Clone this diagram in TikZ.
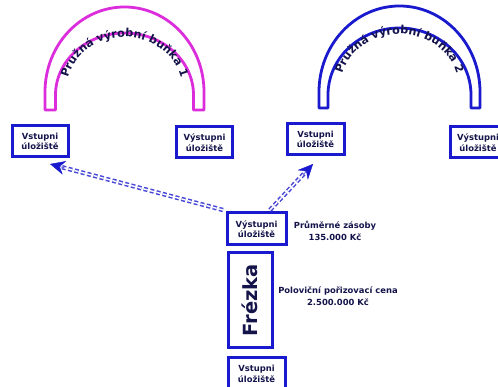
\documentclass[tikz,border=0pt]{standalone}
\usepackage{fontspec}
\setmainfont{DejaVu Sans}
\usetikzlibrary{decorations.text,arrows.meta,calc}
\definecolor{boxblue}{RGB}{25,25,205}
\definecolor{dashblue}{RGB}{70,70,215}
\definecolor{archpink}{RGB}{220,45,220}
\definecolor{navy}{RGB}{20,20,75}
\tikzset{
  store/.style={draw=boxblue, line width=3pt, fill=white, text=navy, align=center,
    font=\fontsize{8.4}{10.5}\selectfont\bfseries, inner sep=1pt,
    minimum width=56pt, minimum height=31pt},
  lbl/.style={text=navy, align=center, font=\fontsize{8.4}{12}\selectfont\bfseries},
  arch/.style={line width=2.8pt, line join=round},
  archtext/.style={decorate},
  flow/.style={draw=dashblue, line width=1.5pt, double=white, double distance=1.4pt,
    dash pattern=on 4pt off 2.5pt},
  flowtip/.style={draw=boxblue, fill=boxblue, -{Stealth[length=15pt,width=14pt,inset=5pt]}}
}
\begin{document}
\fontsize{11.2}{11}\selectfont\bfseries
\begin{tikzpicture}[x=1pt,y=1pt]
\path[use as bounding box, clip] (0,0) rectangle (498,387);
\fill[white] (0,0) rectangle (498,387);
% arch 1
\draw[arch, draw=archpink] (45,277) -- (45,295)
  arc[start angle=180,end angle=0,x radius=79.5pt,y radius=85pt] -- (204,277) -- (193.5,277) -- (193.5,292)
  arc[start angle=0,end angle=180,x radius=69pt,y radius=62pt] -- (55.5,277) -- cycle;
% arch 2
\draw[arch, draw=boxblue] (319,279) -- (319,295)
  arc[start angle=180,end angle=0,x radius=80.5pt,y radius=86pt] -- (480,279) -- (471,279) -- (471,292)
  arc[start angle=0,end angle=180,x radius=71.5pt,y radius=67pt] -- (328,279) -- cycle;
\path[archtext, decoration={text along path, text align=center, text color=navy,
  text={Pružná výrobní buňka 1}}]
  (66.5,297) arc[start angle=180,end angle=0,x radius=58pt,y radius=53pt];
\path[archtext, decoration={text along path, text align=center, text color=navy,
  text={Pružná výrobní buňka 2}}]
  (340.5,300) arc[start angle=180,end angle=0,x radius=59pt,y radius=53pt];
% storages
\node[store] (B1) at (40,245.5) {Vstupni\\úložiště};
\node[store] (B2) at (204.5,244.5) {Výstupni\\úložiště};
\node[store, minimum width=57pt] (B3) at (315.5,247.5) {Vstupni\\úložiště};
\node[store] (B4) at (478,244.5) {Výstupni\\úložiště};
\node[store, minimum width=59pt, minimum height=32pt] (B5) at (256.5,158) {Výstupni\\úložiště};
\node[store, rotate=90, minimum width=95pt, minimum height=44pt, font=\fontsize{19.5}{19}\selectfont\bfseries] (F) at (250,86.5) {Frézka};
\node[store, minimum width=57pt, minimum height=32pt] (B6) at (256.5,13) {Vstupni\\úložiště};
% labels
\node[lbl] (L1) at (335,156) {Průměrné zásoby\\135.000 Kč};
\node[lbl] (L2) at (338,91) {Poloviční pořizovací cena\\2.500.000 Kč};
% flows
\coordinate (a1tail) at (223,177);
\coordinate (a1tip) at (50,223);
\coordinate (a2tail) at (270,177);
\coordinate (a2tip) at (313,223);
\draw[flow, shorten >=11pt] (a1tail) -- (a1tip);
\draw[flowtip] ($(a1tip)!15pt!(a1tail)$) -- (a1tip);
\draw[flow, shorten >=11pt] (a2tail) -- (a2tip);
\draw[flowtip] ($(a2tip)!15pt!(a2tail)$) -- (a2tip);
\end{tikzpicture}
\end{document}
